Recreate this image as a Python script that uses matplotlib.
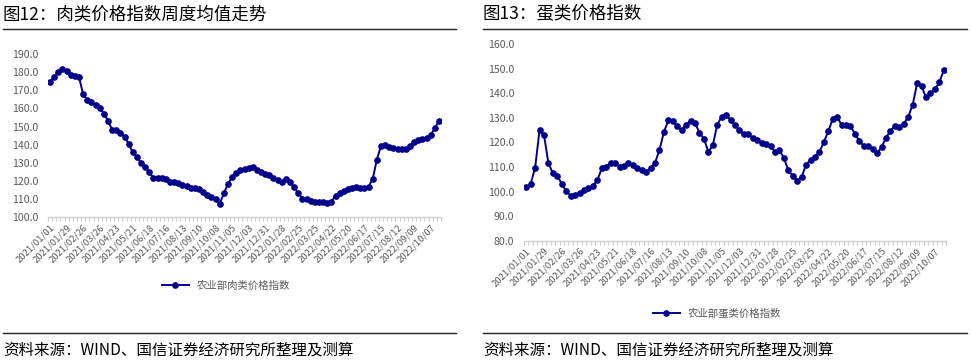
"""
肉类 / 蛋类价格指数 两联图
"""

import datetime as dt
import matplotlib
matplotlib.use("Agg")
import matplotlib.pyplot as plt
from matplotlib.ticker import MultipleLocator, FixedLocator

plt.rcParams['font.family'] = ['Noto Sans CJK SC', 'DejaVu Sans']

# weekly dates, 2021/01/01 .. 2022/10/21
start = dt.date(2021, 1, 1)
dates = [start + dt.timedelta(weeks=i) for i in range(95)]
date_labels = [d.strftime('%Y/%m/%d') for d in dates]

# 农业部肉类价格指数
meat = [174.6, 177.2, 180.1, 181.8, 180.7, 178.5, 177.9, 177.2, 167.8, 164.7,
        163.6, 161.9, 160.1, 157.2, 153.3, 148.2, 148.2, 146.5, 144.5, 140.4,
        135.8, 133.1, 130.1, 127.9, 124.8, 121.5, 121.5, 121.5, 121.0, 119.7,
        119.5, 119.1, 117.8, 117.1, 116.2, 116.2, 115.4, 113.8, 112.5, 111.0,
        109.9, 107.5, 113.2, 118.4, 122.1, 124.6, 126.1, 126.7, 127.2, 127.6,
        126.1, 125.2, 123.9, 123.3, 121.9, 120.6, 119.7, 121.1, 119.5, 116.5,
        113.2, 110.3, 110.1, 108.8, 108.5, 108.5, 108.5, 107.9, 108.6, 111.9,
        113.4, 114.3, 115.6, 116.4, 116.7, 116.4, 116.0, 116.9, 121.3, 131.8,
        139.5, 140.1, 138.8, 138.1, 137.7, 137.7, 137.9, 139.5, 141.5, 142.5,
        143.0, 143.9, 145.2, 149.3, 153.1]

# 农业部蛋类价格指数
egg = [101.7, 103.1, 109.6, 125.0, 123.0, 111.5, 107.4, 106.4, 103.1, 100.1,
       98.3, 98.6, 99.5, 100.5, 101.4, 102.4, 104.5, 109.4, 110.1, 111.7,
       111.5, 110.1, 110.4, 111.7, 110.9, 109.4, 108.6, 108.1, 109.4, 111.7,
       116.9, 124.3, 128.9, 128.8, 126.5, 125.0, 127.2, 128.8, 128.0, 123.9,
       121.5, 116.1, 118.8, 127.2, 130.4, 131.0, 129.1, 127.1, 125.0, 123.3,
       123.4, 121.8, 120.8, 119.9, 119.3, 118.6, 116.1, 117.0, 113.6, 108.7,
       106.3, 104.4, 105.9, 110.9, 112.9, 113.9, 116.1, 120.1, 124.5, 129.5,
       130.3, 127.1, 126.9, 126.5, 123.5, 120.5, 118.6, 118.6, 117.4, 115.5,
       118.1, 121.9, 124.7, 126.6, 126.2, 127.6, 130.4, 135.3, 144.0, 142.8,
       138.3, 139.9, 141.6, 144.4, 149.4]

W, H = 971, 361
navy = '#00008B'
grey = '#595959'

fig = plt.figure(figsize=(W / 100, H / 100), dpi=100)


def px(x0, y0, x1, y1):
    # pixel box -> figure fraction [left, bottom, width, height]
    return [x0 / W, 1 - y1 / H, (x1 - x0) / W, (y1 - y0) / H]


def panel(box, values, ylim, ystep, label, legend_xy):
    ax = fig.add_axes(px(*box))
    x = list(range(len(values)))
    ax.plot(x, values, color=navy, lw=1.4, marker='o', ms=3.8, label=label)
    ax.set_xlim(-0.5, len(values) - 0.5)
    ax.set_ylim(*ylim)
    ax.yaxis.set_major_locator(MultipleLocator(ystep))
    ticks = ax.get_yticks()
    ax.set_yticks(ticks)
    ax.set_yticklabels([f'{t:.1f}' for t in ticks])
    ax.set_ylim(*ylim)
    ax.set_xticks(x[::4])
    ax.set_xticklabels(date_labels[::4], rotation=45, ha='right',
                       rotation_mode='anchor', fontsize=6.8, color=grey)
    ax.xaxis.set_minor_locator(FixedLocator([i - 0.5 for i in range(len(values) + 1)]))
    ax.tick_params(axis='x', which='major', length=0, pad=4)
    ax.tick_params(axis='x', which='minor', length=3, color='#d0d0d0', width=0.8)
    ax.tick_params(axis='y', length=0, labelsize=7.6, labelcolor=grey, pad=7)
    for s in ['top', 'right', 'left']:
        ax.spines[s].set_visible(False)
    ax.spines['bottom'].set_color('#d0d0d0')
    ax.spines['bottom'].set_linewidth(1.0)
    ax.legend(loc='center', bbox_to_anchor=(legend_xy[0] / W, 1 - legend_xy[1] / H),
              bbox_transform=fig.transFigure, frameon=False, fontsize=7.5,
              handlelength=2.6, labelcolor=grey)
    return ax


panel((48, 54, 441, 217.3), meat, (100, 190), 10, '农业部肉类价格指数', (226, 286))
panel((524, 44, 946, 240.7), egg, (80, 160), 10, '农业部蛋类价格指数', (717, 313))

# titles, rules and sources
fig.text(3 / W, 1 - 14 / H, '图12：肉类价格指数周度均值走势', fontsize=12.6, va='center')
fig.text(483 / W, 1 - 14 / H, '图13：蛋类价格指数', fontsize=12.6, va='center')
for x0, x1 in [(3, 456), (483, 967)]:
    for y in (29, 333):
        fig.add_artist(plt.Line2D([x0 / W, x1 / W], [1 - y / H, 1 - y / H],
                                  color='#222222', lw=1.0))
    fig.text(x0 / W, 1 - 350 / H, '资料来源：WIND、国信证券经济研究所整理及测算',
             fontsize=11.2, va='center')

fig.savefig('out.png', dpi=100)
